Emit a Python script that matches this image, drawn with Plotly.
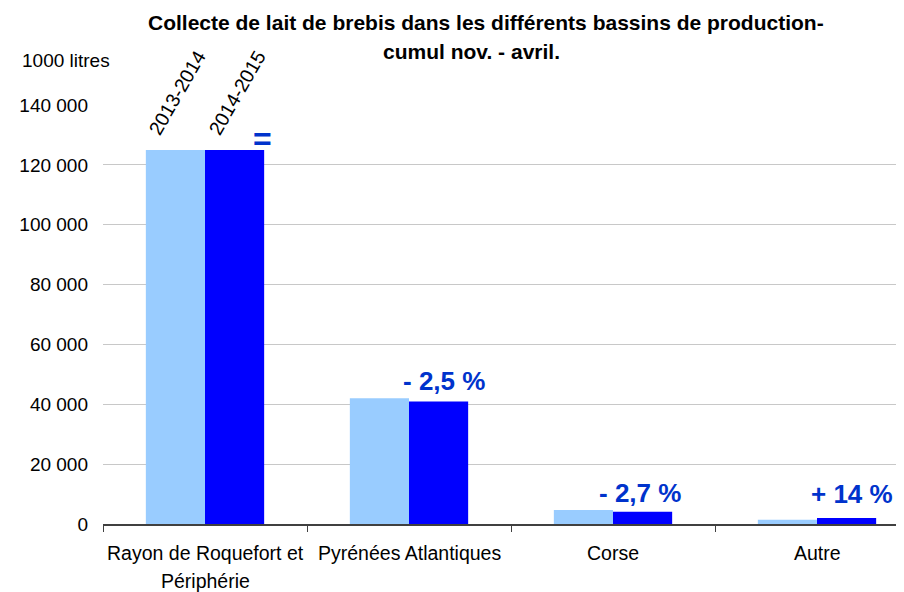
import plotly.graph_objects as go

categories = ["Rayon de Roquefort et<br>Périphérie", "Pyrénées Atlantiques", "Corse", "Autre"]
series_names = ["2013-2014", "2014-2015"]
values_2013_2014 = [125000, 42000, 4700, 1450]
values_2014_2015 = [125000, 40900, 4100, 2000]
change_labels = ["=", "- 2,5 %", "- 2,7 %", "+ 14 %"]
y_ticks = [0, 20000, 40000, 60000, 80000, 100000, 120000, 140000]

# page has an 8px body margin: figure is drawn 8px right/down
OFF = 8
PX_L, PX_T, PX_B = 103, 105, 524  # plot area in page pixels
W, H = 904 - OFF, 592 - OFF
L, R, T, B = PX_L - OFF, 0, PX_T - OFF, H - (PX_B - OFF)
plot_w = W - L - R
plot_h = PX_B - PX_T
cat_px = 204
x_range = [-0.5, -0.5 + plot_w / cat_px]

FONT = "Liberation Sans, Arial, sans-serif"
BLUE_TXT = "#0033CC"


def px_x(p):
    return (p - PX_L) / plot_w


def px_y(p):
    return (PX_B - p) / plot_h


fig = go.Figure()
fig.add_trace(go.Bar(x=categories, y=values_2013_2014, name=series_names[0],
                     marker=dict(color="#99CCFF", line=dict(width=0))))
fig.add_trace(go.Bar(x=categories, y=values_2014_2015, name=series_names[1],
                     marker=dict(color="#0000FF", line=dict(width=0))))

annotations = []
# series names, rotated above first group
for nm, val, xs in zip(series_names, [values_2013_2014[0], values_2014_2015[0]], [-28, 32]):
    annotations.append(dict(x=categories[0], y=val, xref="x", yref="y", text=nm, showarrow=False,
                            textangle=-60, xanchor="center", yanchor="bottom", xshift=xs, yshift=8,
                            font=dict(family=FONT, size=19.5, color="#000000")))
# change labels
shifts = [(57, 11, 32), (35, 21, 26), (27, 19, 26), (35, 24, 26)]
for c, v, t, (xs, ys, fs) in zip(categories, values_2014_2015, change_labels, shifts):
    annotations.append(dict(x=c, y=v, xref="x", yref="y", text="<b>" + t + "</b>", showarrow=False,
                            xanchor="center", yanchor="middle", xshift=xs, yshift=ys,
                            font=dict(family=FONT, size=fs, color=BLUE_TXT)))
# category labels (one annotation per line for exact line spacing)
for c in categories:
    for k, line in enumerate(c.split("<br>")):
        annotations.append(dict(x=c, y=0, xref="x", yref="paper", text=line, showarrow=False,
                                xanchor="center", yanchor="middle", yshift=-29 - 28 * k,
                                font=dict(family=FONT, size=19.5, color="#000000")))
# unit label
annotations.append(dict(x=px_x(20), y=px_y(60), xref="paper", yref="paper",
                        text="1000 litres", showarrow=False, xanchor="left", yanchor="middle",
                        font=dict(family=FONT, size=19, color="#000000")))
# title lines
annotations.append(dict(x=px_x(486), y=px_y(22), xref="paper", yref="paper",
                        text="<b>Collecte de lait de brebis dans les différents bassins de production-</b>",
                        showarrow=False, xanchor="center", yanchor="middle",
                        font=dict(family=FONT, size=21, color="#000000")))
annotations.append(dict(x=px_x(471), y=px_y(52), xref="paper", yref="paper",
                        text="<b>cumul nov. - avril.</b>",
                        showarrow=False, xanchor="center", yanchor="middle",
                        font=dict(family=FONT, size=21, color="#000000")))

fig.update_layout(
    width=W, height=H,
    margin=dict(l=L, r=R, t=T, b=B, pad=0),
    paper_bgcolor="white", plot_bgcolor="white",
    barmode="group", bargap=0.42, bargroupgap=0,
    showlegend=False,
    separators=", ",
    font=dict(family=FONT, size=19, color="#000000"),
    annotations=annotations,
    xaxis=dict(type="category", range=x_range, showgrid=False, showticklabels=False,
               showline=True, linecolor="#404040", linewidth=1.5,
               ticks="outside", tickson="boundaries", ticklen=6, tickcolor="#404040", tickwidth=1),
    yaxis=dict(range=[0, 140000], tickvals=y_ticks, tickformat=",d",
               showgrid=True, gridcolor="#C8C8C8", gridwidth=1,
               showline=False, zeroline=False, ticks="", ticklabelstandoff=14,
               tickfont=dict(family=FONT, size=19, color="#000000")),
)

fig.write_html("out.html")
